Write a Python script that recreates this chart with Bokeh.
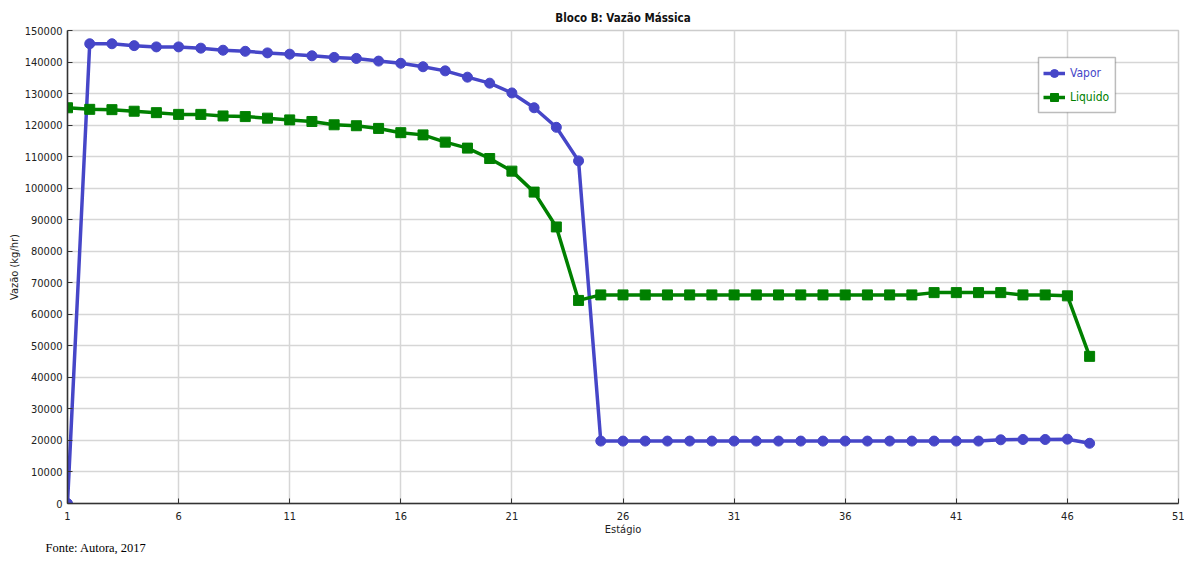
from bokeh.plotting import figure
from bokeh.models import (FixedTicker, BasicTickFormatter, Legend, LegendItem,
                          BoxAnnotation, Title, Range1d)
from bokeh.embed import file_html
from bokeh.resources import INLINE

stages = list(range(1, 48))
vapor = [0, 145800, 145800, 145200, 144800, 144800, 144400, 143750, 143400, 142900,
         142500, 141980, 141470, 141150, 140300, 139600, 138500, 137200, 135200, 133300,
         130200, 125500, 119300, 108650, 19800, 19800, 19800, 19800, 19800, 19800,
         19800, 19800, 19800, 19800, 19800, 19800, 19800, 19800, 19800, 19800,
         19800, 19800, 20200, 20300, 20300, 20400, 19100]
liquido = [125500, 125000, 124900, 124400, 123950, 123400, 123400, 122900, 122700, 122200,
           121650, 121150, 120100, 119800, 118950, 117600, 116900, 114600, 112700, 109400,
           105400, 98750, 87700, 64400, 66150, 66150, 66150, 66150, 66150, 66150,
           66150, 66150, 66150, 66150, 66150, 66150, 66150, 66150, 66150, 66875,
           66875, 66875, 66875, 66150, 66150, 65850, 46660]
x_ticks = [1, 6, 11, 16, 21, 26, 31, 36, 41, 46, 51]
y_ticks = list(range(0, 150001, 10000))

title_text = "Bloco B: Vazão Mássica"
x_label = "Estágio"
y_label = "Vazão (kg/hr)"
series_names = ["Vapor", "Liquido"]
source_text = "Fonte: Autora, 2017"

BLUE = "#4646C8"
GREEN = "#008000"
FONT = "DejaVu Sans Condensed, Liberation Sans Narrow, DejaVu Sans"

p = figure(width=1184, height=554, output_backend="svg", toolbar_location=None,
           x_range=Range1d(1, 51), y_range=Range1d(0, 150000),
           min_border_left=67, min_border_right=6, min_border_top=30,
           min_border_bottom=46, title=title_text)

p.title.align = "center"
p.title.text_font = FONT
p.title.text_font_size = "11.5px"
p.title.text_font_style = "bold"
p.title.text_color = "#111111"
p.title.offset = 0
p.title.standoff = 11

p.outline_line_color = "#cccccc"
p.outline_line_width = 1.5

for ax in (p.xaxis[0], p.yaxis[0]):
    ax.axis_line_color = "#333333"
    ax.axis_line_width = 1.5
    ax.major_tick_line_color = "#333333"
    ax.major_tick_in = 5
    ax.major_tick_out = 0
    ax.minor_tick_line_color = None
    ax.major_label_text_font = FONT
    ax.major_label_text_font_size = "11px"
    ax.major_label_text_color = "#222222"
    ax.axis_label_text_font = FONT
    ax.axis_label_text_font_size = "11px"
    ax.axis_label_text_font_style = "normal"
    ax.axis_label_text_color = "#222222"

p.xaxis.ticker = FixedTicker(ticks=x_ticks)
p.yaxis.ticker = FixedTicker(ticks=y_ticks)
p.yaxis.formatter = BasicTickFormatter(use_scientific=False)
p.xaxis.axis_label = x_label
p.yaxis.axis_label = y_label
p.xaxis.major_label_standoff = 8
p.xaxis.axis_label_standoff = 0
p.yaxis.major_label_standoff = 5
p.yaxis.axis_label_standoff = 1

p.xgrid.ticker = FixedTicker(ticks=x_ticks)
p.ygrid.ticker = FixedTicker(ticks=y_ticks)
p.grid.grid_line_color = "#d6d6d6"
p.grid.grid_line_width = 1.5

lv = p.line(stages, vapor, line_color=BLUE, line_width=3.5)
sv = p.scatter(stages, vapor, marker="circle", size=10, fill_color=BLUE, line_color=BLUE)
ll = p.line(stages, liquido, line_color=GREEN, line_width=3.5)
sl = p.scatter(stages, liquido, marker="square", size=10, fill_color=GREEN, line_color=GREEN)

box = BoxAnnotation(left=44.70, right=48.16, top=141440, bottom=124000,
                    fill_color="white", fill_alpha=1.0, line_color="#222222",
                    line_width=1.5, level="annotation")
p.add_layout(box)

def make_legend(item, color, loc):
    return Legend(items=[item], location=loc, orientation="vertical",
                  border_line_color=None, background_fill_alpha=0,
                  padding=0, margin=0, spacing=0,
                  glyph_width=22, glyph_height=20, label_height=20,
                  label_standoff=5,
                  label_text_font=FONT, label_text_font_size="12px",
                  label_text_color=color)

leg1 = make_legend(LegendItem(label=series_names[0], renderers=[lv, sv]), BLUE, (976, 420))
leg2 = make_legend(LegendItem(label=series_names[1], renderers=[ll, sl]), GREEN, (976, 396))
p.add_layout(leg1)
p.add_layout(leg2)

src = Title(text=source_text, align="left", offset=-22, standoff=0,
            text_font="Liberation Serif", text_font_size="12.5px",
            text_font_style="normal", text_color="#000000")
p.add_layout(src, "below")

open("out.html", "w").write(file_html(p, INLINE))
